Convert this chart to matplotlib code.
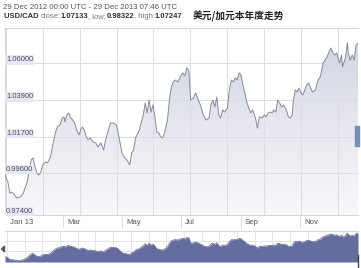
import numpy as np
import matplotlib.pyplot as plt
from matplotlib.patches import Rectangle, Polygon
from matplotlib.colors import LinearSegmentedColormap

plt.rcParams['font.family'] = ['Liberation Sans', 'DejaVu Sans']

# days since 29 Dec 2012 and USD/CAD rate
days = [0, 3, 5, 7, 10, 12, 16, 19, 21, 23, 25, 27, 29, 31, 33, 35, 37, 39, 42, 44,
        47, 49, 52, 54, 57, 59, 61, 62, 64, 66, 68, 70, 72, 74, 77, 78, 80, 82, 84, 86,
        88, 91, 94, 96, 99, 102, 104, 107, 109, 112, 115, 117, 119, 121, 123, 126, 129, 131, 133, 135,
        139, 141, 143, 145, 147, 149, 151, 153, 155, 157, 159, 161, 163, 165, 168, 170, 172, 174, 176, 179,
        181, 184, 186, 188, 190, 192, 195, 197, 200, 202, 205, 208, 211, 213, 215, 217, 219, 221, 223, 225,
        227, 230, 232, 234, 236, 238, 240, 242, 244, 246, 248, 250, 252, 254, 256, 259, 261, 263, 266, 268,
        270, 272, 274, 276, 278, 280, 282, 284, 286, 288, 291, 293, 295, 297, 298, 300, 302, 304, 306, 308,
        310, 312, 314, 316, 318, 321, 323, 325, 326, 328, 329, 331, 333, 335, 337, 339, 341, 343, 345, 346,
        348, 349, 352, 354, 355, 357, 359, 361, 363, 365]
rate = [0.9956, 0.9916, 0.9852, 0.9858, 0.9841, 0.9824, 0.9830, 0.9852, 0.9887, 0.9916,
        0.9985, 1.0042, 1.0054, 1.0002, 0.9968, 0.9956, 0.9973, 1.0014, 1.0031, 1.0025,
        1.0060, 1.0117, 1.0198, 1.0232, 1.0244, 1.0284, 1.0290, 1.0261, 1.0301, 1.0313,
        1.0284, 1.0272, 1.0255, 1.0215, 1.0186, 1.0215, 1.0232, 1.0215, 1.0175, 1.0157,
        1.0169, 1.0146, 1.0140, 1.0117, 1.0140, 1.0100, 1.0157, 1.0215, 1.0255, 1.0255,
        1.0244, 1.0198, 1.0140, 1.0083, 1.0060, 1.0042, 1.0014, 1.0083, 1.0100, 1.0169,
        1.0215, 1.0261, 1.0301, 1.0370, 1.0313, 1.0387, 1.0318, 1.0359, 1.0290, 1.0203,
        1.0198, 1.0175, 1.0169, 1.0198, 1.0272, 1.0387, 1.0462, 1.0491, 1.0502, 1.0491,
        1.0520, 1.0543, 1.0525, 1.0571, 1.0560, 1.0387, 1.0399, 1.0428, 1.0387, 1.0359,
        1.0301, 1.0272, 1.0284, 1.0359, 1.0387, 1.0347, 1.0405, 1.0301, 1.0284, 1.0330,
        1.0318, 1.0341, 1.0445, 1.0502, 1.0491, 1.0514, 1.0502, 1.0543, 1.0531, 1.0474,
        1.0428, 1.0376, 1.0341, 1.0313, 1.0330, 1.0284, 1.0226, 1.0290, 1.0284, 1.0301,
        1.0290, 1.0313, 1.0318, 1.0313, 1.0330, 1.0318, 1.0387, 1.0370, 1.0347, 1.0359,
        1.0330, 1.0290, 1.0284, 1.0301, 1.0376, 1.0445, 1.0433, 1.0456, 1.0428, 1.0416,
        1.0445, 1.0474, 1.0485, 1.0456, 1.0433, 1.0445, 1.0491, 1.0514, 1.0520, 1.0571,
        1.0600, 1.0617, 1.0635, 1.0663, 1.0686, 1.0658, 1.0646, 1.0658, 1.0617, 1.0600,
        1.0646, 1.0577, 1.0629, 1.0715, 1.0658, 1.0617, 1.0646, 1.0617, 1.0704, 1.0713]

ytick_vals = [1.0600, 1.0387, 1.0175, 0.9968, 0.9744]
ytick_labels = ["1.06000", "1.03900", "1.01700", "0.99600", "0.97400"]
month_days = [3, 62, 123, 184, 246, 307]
month_labels = ["Jan 13", "Mar", "May", "Jul", "Sep", "Nov"]

W, H = 361, 268
fig = plt.figure(figsize=(W / 100, H / 100), dpi=100)
fig.patch.set_facecolor('white')

def box(x0, y0, x1, y1):
    # pixel rectangle (top-left origin) -> figure fraction
    return [x0 / W, 1 - y1 / H, (x1 - x0) / W, (y1 - y0) / H]

# ---- main chart
ylo, yhi = 0.9726, 1.0801
ax = fig.add_axes(box(5, 28, 358, 215))
ax.set_xlim(0, 365)
ax.set_ylim(ylo, yhi)
ax.set_xticks([])
ax.set_yticks([])
for s in ax.spines.values():
    s.set_color('#d4d4d8')
    s.set_linewidth(0.7)
ax.spines['right'].set_visible(False)

# gradient fill under the line
grad = np.linspace(0, 1, 256).reshape(-1, 1)
cmap = LinearSegmentedColormap.from_list('fx', ['#f8f8fb', '#e6e7ef', '#cdd1e1'])
im = ax.imshow(grad, extent=[0, 365, ylo, yhi], origin='lower', cmap=cmap,
               aspect='auto', zorder=1, interpolation='bilinear')
poly = Polygon(np.column_stack([[days[0]] + days + [days[-1]], [ylo] + rate + [ylo]]),
               closed=True, facecolor='none', edgecolor='none')
ax.add_patch(poly)
im.set_clip_path(poly)

for v in ytick_vals[:4]:
    ax.axhline(v, color='#dcdde2', lw=0.7, zorder=2)
for d in np.arange(1, 365, 38.1):
    ax.axvline(d, color='#dcdde2', lw=0.7, zorder=2)

ax.plot(days, rate, color='#878b98', lw=0.7, zorder=3)

for v, lab in zip(ytick_vals, ytick_labels):
    dy = 2.2 if v > 0.98 else 0
    ax.annotate(lab, (1, v), xytext=(0, dy), textcoords='offset points',
                fontsize=5.4, color='#4b4e63', va='center', ha='left', zorder=5,
                bbox=dict(boxstyle='square,pad=0.15', fc='#e7e7f3', ec='none'))

# month labels under the chart
xt = ax.get_xaxis_transform()
for d, lab in zip(month_days, month_labels):
    if d > 10:
        ax.plot([d - 2, d - 2], [0, -0.07], transform=xt, clip_on=False,
                color='#dddddd', lw=0.7)
    ax.annotate(lab, (d, -0.038), xycoords=xt, xytext=(1.5, 0), textcoords='offset points',
                fontsize=5.6, color='#555555', va='center', ha='left')

# ---- navigator
nav = fig.add_axes(box(5, 231, 358, 262))
nav.set_xlim(0, 365)
nav.set_ylim(0.978, 1.078)
nav.set_xticks([])
nav.set_yticks([])
for s in nav.spines.values():
    s.set_visible(False)
nav.spines['top'].set_visible(True)
nav.spines['top'].set_color('#d8d8d8')
for v in [1.0455, 1.013]:
    nav.axhline(v, color='#dedede', lw=0.6, zorder=0)
for d in np.arange(2, 365, 18.3):
    nav.axvline(d, color='#e2e2e2', lw=0.6, zorder=0)
nav.fill_between(days, rate, 0.978, color='#646d9e', lw=0, zorder=2)
nav.plot(days, rate, color='#5a6393', lw=0.5, zorder=3)

# ---- overlay: header texts and small markers
ov = fig.add_axes([0, 0, 1, 1], zorder=10)
ov.set_xlim(0, W)
ov.set_ylim(H, 0)
ov.axis('off')
ov.patch.set_alpha(0)

ov.text(3, 7.5, "29 Dec 2012 00:00 UTC - 29 Dec 2013 07:46 UTC",
        fontsize=5.6, color='#555555', va='center', ha='left')

parts = [("USD/CAD ", 'bold', '#333333'), ("close:", 'normal', '#777777'),
         ("1.07133", 'bold', '#333333'), (", low:", 'normal', '#777777'),
         ("0.98322", 'bold', '#333333'), (", high:", 'normal', '#777777'),
         ("1.07247", 'bold', '#333333')]
prev = ov.text(4, 17, parts[0][0], fontsize=5.5, fontweight=parts[0][1],
               color=parts[0][2], va='center', ha='left')
for txt, fw, col in parts[1:]:
    prev = ov.annotate(txt, (1, 0.5), xycoords=prev, va='center', ha='left',
                       fontsize=5.5, fontweight=fw, color=col)

ov.text(193, 16.5, "美元/加元本年度走势", fontsize=7, fontweight='bold', color='#222222',
        va='center', ha='left', family=['Noto Sans CJK SC', 'DejaVu Sans'])

ov.add_patch(Rectangle((355, 126), 4, 20, color='#6f92b6', zorder=11))
ov.add_patch(Polygon([[1.5, 249], [4.5, 246], [4.5, 252]], closed=True, color='#555a70'))
ov.plot([357.5, 357.5], [255, 267], color='#444444', lw=1.0)

fig.savefig('out.png', dpi=100)
